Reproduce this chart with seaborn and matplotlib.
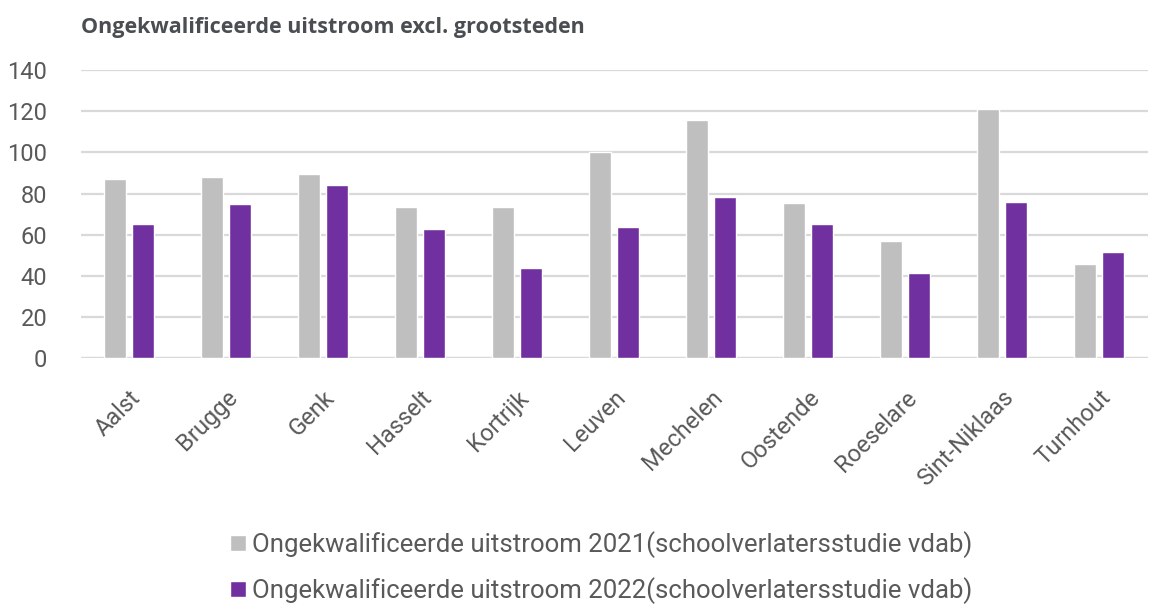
import pandas as pd
import matplotlib.pyplot as plt
import seaborn as sns

steden = ['Aalst', 'Brugge', 'Genk', 'Hasselt', 'Kortrijk', 'Leuven',
          'Mechelen', 'Oostende', 'Roeselare', 'Sint-Niklaas', 'Turnhout']
uitstroom_2021 = [87, 88, 89.5, 73.5, 73.5, 100, 115.5, 75.5, 57, 121, 46]
uitstroom_2022 = [65, 75, 84, 63, 44, 63.5, 78.5, 65, 41.5, 76, 51.5]
reeks_namen = ['Ongekwalificeerde uitstroom 2021(schoolverlatersstudie vdab)',
               'Ongekwalificeerde uitstroom 2022(schoolverlatersstudie vdab)']
kleuren = ['#BFBFBF', '#7030A0']

df = pd.DataFrame({
    'stad': steden * 2,
    'waarde': uitstroom_2021 + uitstroom_2022,
    'reeks': [reeks_namen[0]] * len(steden) + [reeks_namen[1]] * len(steden),
})

sns.set_style("white")
plt.rcParams['font.family'] = ['Roboto', 'DejaVu Sans']

fig = plt.figure(figsize=(11.5, 6.04), dpi=100)
ax = fig.add_axes([0.07, 0.407, 0.928, 0.477])

sns.barplot(data=df, x='stad', y='waarde', hue='reeks', palette=kleuren,
            width=0.57, gap=0.21, saturation=1, ax=ax, legend=True)

ax.set_ylim(0, 140)
ax.set_yticks(range(0, 141, 20))
ax.set_xlim(-0.5, len(steden) - 0.5)
ax.yaxis.grid(True, color='#d9d9d9', linewidth=1.6)
ax.set_axisbelow(True)
sns.despine(ax=ax, left=True, bottom=True)
ax.axhline(0, color='#d9d9d9', linewidth=1.6, zorder=0)
ax.set_xlabel('')
ax.set_ylabel('')
ax.tick_params(axis='y', length=0, pad=24, labelsize=17, labelcolor='#595959')
ax.tick_params(axis='x', length=0, pad=20, labelsize=17, labelcolor='#595959')
plt.setp(ax.get_xticklabels(), rotation=45, ha='right', rotation_mode='anchor')

fig.text(0.07, 0.955, 'Ongekwalificeerde uitstroom excl. grootsteden',
         fontsize=15.5, fontweight='bold', color='#4a4d52', va='center',
         family=['Open Sans', 'DejaVu Sans'])

leg = ax.legend(loc='upper center', bbox_to_anchor=(0.488, -0.52), ncol=1,
                frameon=False, fontsize=18.5, handlelength=0.6, handleheight=0.6,
                handletextpad=0.25, labelspacing=0.75, labelcolor='#595959')

fig.savefig('out.png', dpi=100)
